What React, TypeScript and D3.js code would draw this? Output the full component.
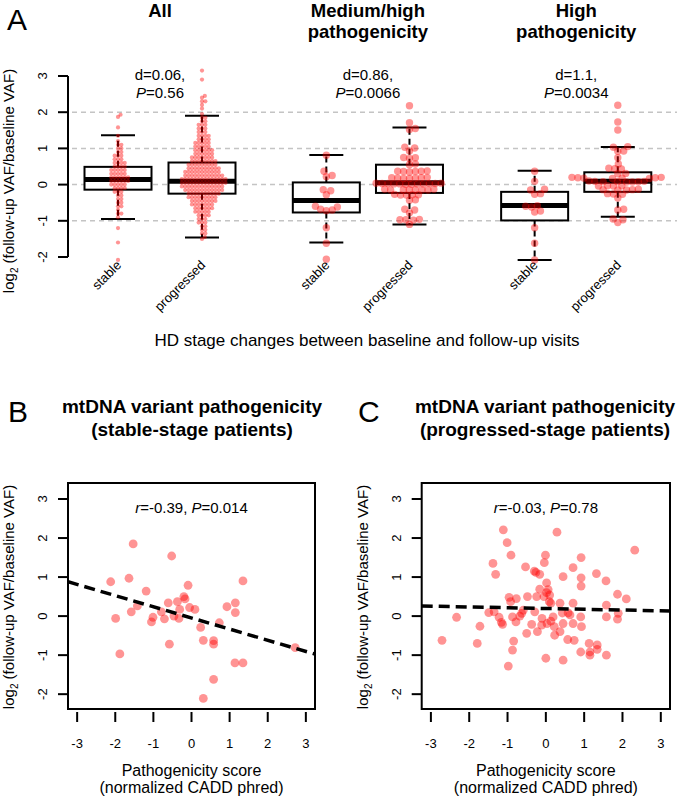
import React from 'react';
import * as d3 from 'd3';

// ---------- Panel A data ----------
const groupTitles = [['All'], ['Medium/high', 'pathogenicity'], ['High', 'pathogenicity']];
const groupStats = [['d=0.06,', '0.56'], ['d=0.86,', '0.0066'], ['d=1.1,', '0.0034']];
const boxCats = ['stable', 'progressed', 'stable', 'progressed', 'stable', 'progressed'];
const boxPos = [1, 2, 3.48, 4.47, 5.96, 6.95];
// [lower whisker, Q1, median, Q3, upper whisker]
const boxStats = [
  [-0.95, -0.14, 0.14, 0.49, 1.36],
  [-1.46, -0.25, 0.09, 0.61, 1.9],
  [-1.6, -0.77, -0.44, 0.06, 0.82],
  [-1.1, -0.23, 0.05, 0.55, 1.58],
  [-2.08, -0.99, -0.58, -0.2, 0.38],
  [-0.89, -0.2, 0.09, 0.34, 1.04],
];
// [value, count] rows for the dense "All" swarms
const allStableRows = [
  [1.93, 1], [1.87, 1], [1.58, 1], [1.35, 1], [1.2, 1], [1.1, 2], [1.0, 2], [0.9, 2], [0.8, 3], [0.7, 3],
  [0.6, 4], [0.5, 4], [0.4, 5], [0.3, 5], [0.2, 6], [0.1, 6], [0.0, 5], [-0.1, 4], [-0.2, 3], [-0.3, 2],
  [-0.4, 2], [-0.5, 2], [-0.6, 2], [-0.7, 1], [-0.8, 2], [-0.9, 1], [-1.2, 1], [-1.6, 1], [-2.08, 1],
];
const allProgRows = [
  [3.15, 1], [2.9, 1], [2.45, 1], [2.4, 1], [2.3, 2], [2.2, 1], [2.1, 1], [1.95, 1], [1.85, 2], [1.75, 2],
  [1.65, 3], [1.55, 3], [1.45, 3], [1.35, 4], [1.25, 4], [1.15, 5], [1.05, 5], [0.95, 6], [0.85, 6], [0.75, 7],
  [0.65, 8], [0.55, 9], [0.45, 10], [0.35, 11], [0.25, 12], [0.15, 14], [0.05, 14], [-0.05, 13], [-0.15, 12],
  [-0.25, 10], [-0.35, 9], [-0.45, 8], [-0.55, 7], [-0.65, 6], [-0.75, 5], [-0.85, 4], [-0.95, 3], [-1.05, 3],
  [-1.15, 2], [-1.25, 2], [-1.35, 2], [-1.45, 1], [-1.5, 1],
];
const medStable = [0.81, 0.37, 0.25, 0.22, -0.14, -0.17, -0.28, -0.6, -0.62, -0.68, -0.7, -0.72, -1.19, -1.62, -2.06];
const medProg = [2.18, 1.71, 1.55, 1.52, 1.03, 1.01, 0.93, 0.75, 0.74, 0.72, 0.57, 0.55, 0.38, 0.37, 0.37, 0.36,
  0.36, 0.35, 0.2, 0.19, 0.19, 0.18, 0.18, 0.17, 0.17, 0.04, 0.04, 0.03, 0.03, 0.03, 0.03, 0.02, 0.02, 0.02, 0.02,
  0.01, 0.01, -0.13, -0.13, -0.14, -0.14, -0.14, -0.15, -0.15, -0.15, -0.27, -0.28, -0.28, -0.29, -0.29, -0.42,
  -0.43, -0.68, -0.7, -0.78, -0.96, -0.97, -0.97, -0.98, -1.1];
const highStable = [0.37, 0.09, -0.13, -0.15, -0.25, -0.27, -0.58, -0.6, -0.62, -0.73, -0.76, -1.19, -1.62, -2.08];
const highProg = [2.19, 1.73, 1.51, 1.05, 1.03, 0.93, 0.92, 0.74, 0.57, 0.45, 0.44, 0.43, 0.31, 0.3, 0.2, 0.2,
  0.19, 0.19, 0.18, 0.18, 0.17, 0.17, 0.1, 0.09, 0.09, 0.08, 0.08, 0.08, 0.07, 0.07, -0.03, -0.03, -0.04, -0.04,
  -0.13, -0.14, -0.14, -0.15, -0.15, -0.25, -0.26, -0.27, -0.37, -0.68, -0.7, -0.95, -0.97, -1.05];
const yTicksA = [-2, -1, 0, 1, 2, 3];
const gridA = [2, 1, 0, -1];

// ---------- Panels B/C data ----------
const bX = [-2.12, -1.64, -1.53, -1.19, -0.52, -0.09, -0.2, 1.35, -1.99, -1.88, -1.58, -1.42, -1.05, -1.01, -0.79,
  -0.71, -0.61, -0.58, -0.37, -0.46, -0.31, -0.33, -0.17, -0.05, 0.09, 0.24, 0.31, 0.58, 0.58, 0.73, 0.93, 1.15,
  1.15, 1.14, 1.35, 0.58, 0.31, 2.72];
const bY = [0.88, 0.97, 1.85, 0.64, 1.54, 0.79, 0.5, 0.9, -0.06, -0.97, 0.11, 0.26, -0.15, -0.03, 0.11, -0.07,
  0.34, -0.72, 0.37, 0.0, 0.17, -0.06, 0.44, 0.22, 0.17, -0.29, -0.62, -0.63, -0.72, -0.17, 0.24, 0.34, 0.09,
  -1.2, -1.2, -1.62, -2.11, -0.81];
const cX = [-1.11, -1.01, -0.91, -1.38, -1.31, -0.53, -0.3, -0.26, -0.16, -0.04, -0.01, 0.29, 0.45, 0.71, 0.92,
  0.92, 0.92, 1.32, 1.57, 2.32, 0.02, 0.06, -0.16, 0.1, 1.87, 2.1,
  -2.71, -2.33, -1.72, -1.79, -1.49, -1.35, -1.22, -1.16, -1.13, -0.98, -0.96, -0.92, -0.87, -0.84, -0.87, -0.77,
  -0.78, -0.68, -0.63, -0.59, -0.5, -0.48, -0.37, -0.29, -0.24, -0.22, -0.11, -0.1, -0.05, 0.0, 0.02, 0.09, 0.13,
  0.03, 0.13, 0.19, 0.23, 0.22, 0.37, 0.37, 0.43, 0.45, 0.57, 0.45, 0.63, 0.58, 0.71, 0.71, 0.74, 0.91, 0.93, 0.91,
  1.13, 1.15, 1.15, 1.34, 1.34, 1.58, 1.58, 1.58, 1.89, 1.87];
const cY = [2.21, 1.88, 1.56, 1.35, 1.07, 1.26, 1.15, 1.12, 1.07, 1.37, 1.56, 2.15, 1.01, 1.24, 1.5,
  0.98, 0.77, 1.09, 0.9, 1.69, 0.85, 0.68, 0.69, 0.54, 0.56, 0.44,
  -0.62, -0.03, -0.26, -0.7, 0.09, 0.11, -0.03, -0.16, -0.21, -1.28, 0.48, 0.37, -0.02, -0.64, -0.87, 0.45,
  -0.15, 0.0, 0.07, 0.15, -0.44, 0.5, -0.21, 0.11, 0.5, -0.4, -0.23, -0.06, 0.5, -1.08, 0.6, 0.37, 0.33,
  -0.19, -0.13, -0.02, -0.49, -0.27, 0.33, -0.4, 0.08, -0.19, -0.6, -1.13, 0.03, 0.08, 0.33, -0.19, -0.62, -0.02,
  -0.27, -0.92, -0.7, -0.92, -1.0, -0.74, -0.85, 0.28, -0.02, -1.0, 0.07, -0.08];
// regression lines [intercept, slope]
const fitB = [-0.047, -0.286];
const fitC = [0.195, -0.02];
const scatterTicks = [-3, -2, -1, 0, 1, 2, 3];
const scatterYTicks = [-2, -1, 0, 1, 2, 3];

const FONT = '"Liberation Sans", Arial, Helvetica, sans-serif';
const PT = 'rgba(255,0,0,0.42)';

function swarm(values: number[], y: (v: number) => number, r: number, gap: number) {
  const d = 2 * r * gap;
  const sorted = [...values].sort((a, b) => a - b);
  const placed: { x: number; y: number }[] = [];
  for (const v of sorted) {
    const py = y(v);
    const near = placed.filter((p) => Math.abs(p.y - py) < d);
    const cands = [0];
    for (const p of near) {
      const off = Math.sqrt(d * d - (p.y - py) ** 2);
      cands.push(p.x + off, p.x - off);
    }
    cands.sort((a, b) => Math.abs(a) - Math.abs(b));
    let chosen = 0;
    for (const c of cands) {
      if (near.every((p) => (p.x - c) ** 2 + (p.y - py) ** 2 >= d * d - 1e-6)) { chosen = c; break; }
    }
    placed.push({ x: chosen, y: py });
  }
  return placed;
}

const expand = (rows: number[][]) => rows.flatMap(([v, n]) => Array.from({ length: n }, () => v));

function YTitle({ x, y }: { x: number; y: number }) {
  return (
    <text transform={`translate(${x},${y}) rotate(-90)`} textAnchor="middle" fontSize={15}>
      log<tspan fontSize={10} dy={4}>2</tspan><tspan dy={-4}> (follow-up VAF/baseline VAF)</tspan>
    </text>
  );
}

function PanelA() {
  const y = d3.scaleLinear().domain([-2, 3]).range([257, 76]);
  const x = d3.scaleLinear().domain([1, 2]).range([118, 202]);
  const hw = 33.5;
  const cap = 17;
  const groups = [expand(allStableRows), expand(allProgRows), medStable, medProg, highStable, highProg];
  const radii = [2.1, 2.1, 3.7, 3.7, 3.7, 3.7];
  const gaps = [0.8, 0.8, 0.8, 0.8, 0.8, 0.8];
  return (
    <g>
      <text x={7} y={30} fontSize={30}>A</text>
      {groupTitles.map((lines, g) => {
        const cx = (x(boxPos[2 * g]) + x(boxPos[2 * g + 1])) / 2;
        return (
          <g key={g}>
            {lines.map((l, i) => (
              <text key={i} x={cx} y={17 + i * 21} textAnchor="middle" fontSize={18.5} fontWeight="bold">{l}</text>
            ))}
            <text x={cx} y={80} textAnchor="middle" fontSize={15}>{groupStats[g][0]}</text>
            <text x={cx} y={98} textAnchor="middle" fontSize={15}>
              <tspan fontStyle="italic">P</tspan>={groupStats[g][1]}
            </text>
          </g>
        );
      })}
      {gridA.map((v) => (
        <line key={v} x1={72} x2={677} y1={y(v)} y2={y(v)} stroke="#c4c4c4" strokeWidth={1.5} strokeDasharray="5,4" />
      ))}
      <line x1={68} x2={68} y1={y(-2)} y2={y(3)} stroke="black" strokeWidth={2} />
      {yTicksA.map((v) => (
        <g key={v}>
          <line x1={58} x2={68} y1={y(v)} y2={y(v)} stroke="black" strokeWidth={2} />
          <text transform={`translate(47,${y(v)}) rotate(-90)`} textAnchor="middle" fontSize={13}>{v}</text>
        </g>
      ))}
      <YTitle x={14} y={181} />
      {boxStats.map((s, i) => {
        const cx = x(boxPos[i]);
        const [lo, q1, med, q3, hi] = s;
        return (
          <g key={i}>
            <line x1={cx} x2={cx} y1={y(q3)} y2={y(hi)} stroke="black" strokeWidth={2} strokeDasharray="6,4" />
            <line x1={cx} x2={cx} y1={y(q1)} y2={y(lo)} stroke="black" strokeWidth={2} strokeDasharray="6,4" />
            <line x1={cx - cap} x2={cx + cap} y1={y(hi)} y2={y(hi)} stroke="black" strokeWidth={2} />
            <line x1={cx - cap} x2={cx + cap} y1={y(lo)} y2={y(lo)} stroke="black" strokeWidth={2} />
            <rect x={cx - hw} y={y(q3)} width={2 * hw} height={y(q1) - y(q3)} fill="white" stroke="black" strokeWidth={2} />
            <line x1={cx - hw} x2={cx + hw} y1={y(med)} y2={y(med)} stroke="black" strokeWidth={5} />
            <text transform={`translate(${cx + 4},266) rotate(-45)`} textAnchor="end" fontSize={13}>{boxCats[i]}</text>
          </g>
        );
      })}
      {groups.map((vals, i) => {
        const cx = x(boxPos[i]);
        return (
          <g key={i}>
            {swarm(vals, y, radii[i], gaps[i]).map((p, j) => (
              <circle key={j} cx={cx + p.x} cy={p.y} r={radii[i]} fill={PT} />
            ))}
          </g>
        );
      })}
      <text x={367} y={346} textAnchor="middle" fontSize={17}>HD stage changes between baseline and follow-up visits</text>
    </g>
  );
}

function Scatter({ left, right, letter, letterX, title2, xs, ys, fit, stat, titleX }: any) {
  const x = d3.scaleLinear().domain([-3.24, 3.24]).range([left, right]);
  const y = d3.scaleLinear().domain([-2.38, 3.41]).range([709, 483]);
  const cx = (left + right) / 2;
  return (
    <g>
      <text x={letterX} y={422} fontSize={30}>{letter}</text>
      <text x={titleX} y={413} textAnchor="middle" fontSize={19} fontWeight="bold">mtDNA variant pathogenicity</text>
      <text x={titleX} y={436} textAnchor="middle" fontSize={19} fontWeight="bold">{title2}</text>
      <defs>
        <clipPath id={`clip${letter}`}>
          <rect x={left} y={483} width={right - left} height={226} />
        </clipPath>
      </defs>
      <g clipPath={`url(#clip${letter})`}>
        {xs.map((v: number, i: number) => (
          <circle key={i} cx={x(v)} cy={y(ys[i])} r={4.4} fill={PT} />
        ))}
        <line x1={x(-3.24)} x2={x(3.24)} y1={y(fit[0] + fit[1] * -3.24)} y2={y(fit[0] + fit[1] * 3.24)}
          stroke="black" strokeWidth={3.5} strokeDasharray="11,6" />
      </g>
      <rect x={left} y={483} width={right - left} height={226} fill="none" stroke="black" strokeWidth={2} />
      {scatterYTicks.map((v) => (
        <g key={v}>
          <line x1={left - 10} x2={left} y1={y(v)} y2={y(v)} stroke="black" strokeWidth={2} />
          <text transform={`translate(${left - 21},${y(v)}) rotate(-90)`} textAnchor="middle" fontSize={13}>{v}</text>
        </g>
      ))}
      {scatterTicks.map((v) => (
        <g key={v}>
          <line x1={x(v)} x2={x(v)} y1={712} y2={722} stroke="black" strokeWidth={2} />
          <text x={x(v)} y={748} textAnchor="middle" fontSize={13}>{v}</text>
        </g>
      ))}
      <text x={cx} y={513} textAnchor="middle" fontSize={15}>
        <tspan fontStyle="italic">r</tspan>={stat[0]}, <tspan fontStyle="italic">P</tspan>={stat[1]}
      </text>
      <text x={cx} y={776} textAnchor="middle" fontSize={16}>Pathogenicity score</text>
      <text x={cx} y={793} textAnchor="middle" fontSize={16}>(normalized CADD phred)</text>
      <YTitle x={left - 54} y={597} />
    </g>
  );
}

export default function App() {
  return (
    <svg width={677} height={799} style={{ position: 'absolute', left: 0, top: 0, background: 'white' }} fontFamily={FONT}>
      <rect width={677} height={799} fill="white" />
      <PanelA />
      <Scatter left={68} right={315} letter="B" letterX={8} titleX={192} title2="(stable-stage patients)"
        xs={bX} ys={bY} fit={fitB} stat={['-0.39', '0.014']} />
      <Scatter left={421.7} right={670} letter="C" letterX={358} titleX={545} title2="(progressed-stage patients)"
        xs={cX} ys={cY} fit={fitC} stat={['-0.03', '0.78']} />
    </svg>
  );
}
